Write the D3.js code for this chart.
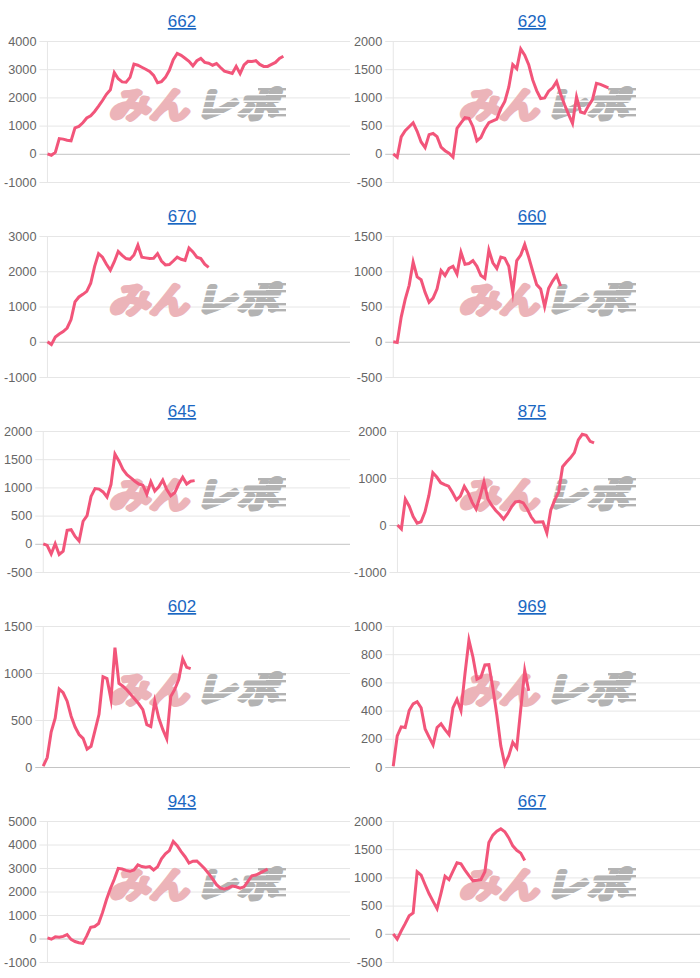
<!DOCTYPE html>
<html><head><meta charset="utf-8">
<script src="https://cdn.jsdelivr.net/npm/d3@7"></script>
<style>
html,body{margin:0;padding:0;background:#fff;}
svg text{font-family:"Liberation Sans",Arial,Helvetica,sans-serif;}
</style></head>
<body>
<svg id="chart" width="700" height="978"></svg>
<script>
const titles = ["662","629","670","660","645","875","602","969","943","667"];
const yMin  = [-1000,-500,-1000,-500,-500,-1000,0,0,-1000,-500];
const yMax  = [4000,2000,3000,1500,2000,2000,1500,1000,5000,2000];
const yStep = [1000,500,1000,500,500,1000,500,200,1000,500];

const s662 = [0,-50,50,540,520,480,460,920,970,1100,1270,1350,1500,1690,1890,2110,2270,2880,2660,2550,2540,2710,3180,3140,3070,3000,2920,2780,2520,2560,2710,2960,3340,3560,3490,3390,3280,3120,3300,3380,3240,3210,3140,3200,3060,2930,2890,2850,3100,2840,3150,3280,3270,3300,3170,3100,3100,3170,3240,3380,3460];
const s629 = [0,-60,300,410,480,550,400,210,110,340,360,305,120,55,10,-60,450,550,640,630,480,230,290,440,550,585,615,800,930,1180,1580,1510,1860,1750,1580,1310,1120,980,990,1110,1170,1280,1060,870,700,540,1010,740,720,850,960,1250,1230,1200,1170];
const s670 = [0,-80,135,220,290,390,630,1130,1270,1345,1430,1660,2140,2500,2400,2200,2030,2270,2560,2450,2360,2340,2460,2740,2400,2380,2360,2370,2500,2290,2180,2190,2290,2400,2340,2310,2660,2550,2400,2360,2200,2110];
const s660 = [0,-10,350,600,800,1130,920,880,700,560,620,750,1010,940,1040,1070,960,1270,1100,1110,1150,1070,940,900,1300,1120,1040,1200,1185,1070,700,1150,1230,1380,1200,1000,810,750,500,760,860,940,790];
const s645 = [0,-30,-180,0,-190,-130,240,250,130,50,400,500,840,980,970,920,830,1050,1590,1470,1320,1225,1170,1110,1060,1040,880,1100,935,1010,1130,960,850,905,1060,1180,1060,1110,1120];
const s875 = [0,-85,550,400,180,40,70,280,630,1110,1020,900,860,825,690,535,615,820,680,480,340,600,920,555,415,310,225,125,240,385,490,505,470,340,175,60,65,70,-170,320,530,700,1240,1340,1430,1540,1810,1930,1910,1780,1745];
const s602 = [10,100,375,520,830,790,700,540,425,346,305,190,220,390,560,960,940,720,1270,890,860,820,770,720,670,610,450,430,700,520,400,300,750,825,930,1150,1060,1046];
const s969 = [5,220,285,280,400,448,463,420,270,212,157,280,306,265,230,420,480,400,660,900,780,622,637,724,726,560,370,150,18,80,175,135,410,684,540];
const s943 = [30,-30,70,50,90,165,-40,-130,-180,-210,110,480,510,640,1100,1650,2120,2520,2985,2955,2900,2860,2920,3130,3060,3030,3060,2915,3050,3390,3600,3740,4130,3950,3700,3480,3210,3290,3300,3140,2970,2760,2540,2290,2140,2110,2150,2230,2200,2140,2200,2430,2670,2700,2780,2870,2950];
const s667 = [0,-95,50,180,320,370,1100,1040,870,710,575,445,720,1020,960,1110,1260,1240,1130,1030,940,950,960,1100,1620,1750,1820,1860,1810,1700,1560,1480,1430,1300];

const seriesList = [s662,s629,s670,s660,s645,s875,s602,s969,s943,s667];
const XMAX = 80;

const PANEL_W = 350, PANEL_H = 195;
const PLOT_TOP = 41, PLOT_BOTTOM = 182, PLOT_RIGHT = 362;
const FONT = 12.7;

const root = d3.select("#chart");

function watermark(g){
  const w = g.append("g").attr("class","wm");
  const pink = "#ecb4b9", grey = "#b3b3b3";
  w.append("text").text("みん")
    .attr("x",112).attr("y",115)
    .attr("font-family","'Noto Sans CJK JP',sans-serif")
    .attr("font-weight",900).attr("font-size",34)
    .attr("textLength",80).attr("lengthAdjust","spacingAndGlyphs")
    .attr("fill",pink).attr("stroke",pink).attr("stroke-width",4.5)
    .attr("stroke-linejoin","round")
    .attr("transform","translate(28,0) skewX(-14)");
  w.append("text").text("レポ")
    .attr("x",200).attr("y",115)
    .attr("font-family","'Noto Sans CJK JP',sans-serif")
    .attr("font-weight",900).attr("font-size",34)
    .attr("textLength",80).attr("lengthAdjust","spacingAndGlyphs")
    .attr("fill",grey).attr("stroke",grey).attr("stroke-width",4.5)
    .attr("stroke-linejoin","round")
    .attr("transform","translate(28,0) skewX(-14)");
  // speed stripes cut through grey part
  [94,100.5,107,113].forEach(yy=>{
    w.append("rect").attr("x",196).attr("y",yy).attr("width",96).attr("height",1.4).attr("fill","#fff");
  });
  // trailing speed lines
  [[258,88,28],[266,95,20],[256,108,30],[268,114,18]].forEach(([sx,sy,len])=>{
    w.append("rect").attr("x",sx).attr("y",sy).attr("width",len).attr("height",2.4).attr("fill",grey);
  });
}

titles.forEach((t,i)=>{
  const col = i%2, row = Math.floor(i/2);
  const g = root.append("svg")
    .attr("x", col*PANEL_W).attr("y", row*PANEL_H)
    .attr("width", PANEL_W).attr("height", PANEL_H);

  const ticks = d3.range(yMin[i], yMax[i]+1, yStep[i]);
  const meas = g.append("text").attr("font-size",FONT);
  let maxW = 0;
  ticks.forEach(v=>{ meas.text(String(v)); maxW = Math.max(maxW, meas.node().getComputedTextLength()); });
  meas.remove();
  const left = 4 + maxW + 11;

  const y = d3.scaleLinear().domain([yMin[i], yMax[i]]).range([PLOT_BOTTOM, PLOT_TOP]);
  const x = d3.scaleLinear().domain([0, XMAX]).range([left, PLOT_RIGHT]);

  g.append("text").text(t)
    .attr("x",182).attr("y",27)
    .attr("text-anchor","middle")
    .attr("font-size",17)
    .attr("fill","#1a67c2")
    .attr("text-decoration","underline");

  const ax = g.append("g").attr("transform",`translate(${left-8},0)`)
    .call(d3.axisLeft(y).tickValues(ticks).tickFormat(d=>String(d))
      .tickSize(-(PLOT_RIGHT-left+8)).tickPadding(3));
  ax.select(".domain").remove();
  ax.selectAll(".tick line").attr("stroke", d=> d===0 ? "#c4c4c4" : "#e6e6e6").attr("stroke-width",1);
  ax.selectAll(".tick text").attr("font-size",FONT).attr("fill","#666")
    .attr("font-family","'Liberation Sans',Arial,sans-serif");

  g.append("line").attr("x1",left).attr("x2",left).attr("y1",PLOT_TOP).attr("y2",PLOT_BOTTOM)
    .attr("stroke","#e6e6e6").attr("stroke-width",1);

  watermark(g);

  const line = d3.line().x((d,j)=>x(j)).y(d=>y(d)).curve(d3.curveLinear);
  g.append("path").datum(seriesList[i])
    .attr("d", line)
    .attr("fill","none")
    .attr("stroke","#f2557a")
    .attr("stroke-width",3)
    .attr("stroke-linejoin","miter")
    .attr("stroke-miterlimit",10);
});
</script>
</body></html>
